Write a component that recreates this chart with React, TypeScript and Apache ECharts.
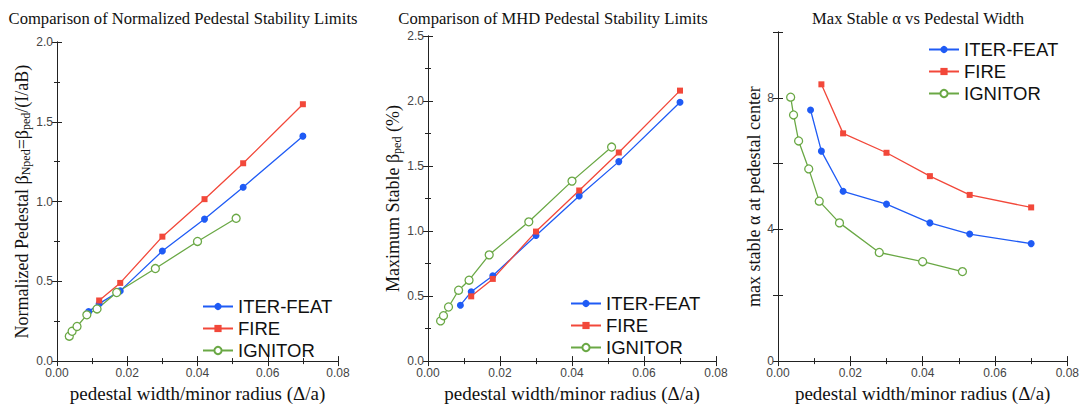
import React, { useEffect, useRef } from "react";
import * as echarts from "echarts";

// x positions (pedestal width / minor radius)
const iterX = [0.009, 0.012, 0.018, 0.030, 0.042, 0.053, 0.070];
const fireX = [0.012, 0.018, 0.030, 0.042, 0.053, 0.070];
const ignX = [0.0035, 0.0043, 0.0057, 0.0085, 0.0114, 0.017, 0.028, 0.040, 0.051];

// Panel 1: normalized pedestal beta
const iterBN = [0.31, 0.36, 0.44, 0.69, 0.89, 1.09, 1.41];
const fireBN = [0.38, 0.49, 0.78, 1.015, 1.24, 1.61];
const ignBN = [0.156, 0.187, 0.217, 0.29, 0.327, 0.43, 0.58, 0.75, 0.895];

// Panel 2: maximum stable beta_ped (%)
const iterB = [0.43, 0.533, 0.657, 0.966, 1.27, 1.534, 1.99];
const fireB = [0.498, 0.632, 0.996, 1.312, 1.604, 2.08];
const ignB = [0.309, 0.349, 0.416, 0.545, 0.622, 0.817, 1.071, 1.384, 1.646];

// Panel 3: max stable alpha at pedestal center
const iterA = [7.63, 6.38, 5.16, 4.77, 4.2, 3.86, 3.57];
const fireA = [8.41, 6.92, 6.33, 5.62, 5.05, 4.67];
const ignA = [8.02, 7.48, 6.69, 5.84, 4.86, 4.2, 3.3, 3.02, 2.72];

const seriesNames = ["ITER-FEAT", "FIRE", "IGNITOR"];
const titles = [
  "Comparison of Normalized Pedestal Stability Limits",
  "Comparison of MHD Pedestal Stability Limits",
  "Max Stable \u03b1 vs Pedestal Width",
];
const xName = "pedestal width/minor radius (\u0394/a)";

const BLUE = "#1f5bf5";
const RED = "#f2483a";
const GREEN = "#6aa845";
const AXIS = "#222";
const LABEL = "#444";
const SERIF = "'Liberation Serif', 'DejaVu Serif', serif";
const SANS = "'Liberation Sans', Arial, sans-serif";

const zip = (xs: number[], ys: number[]) => xs.map((x, i) => [x, ys[i]]);

export default function App() {
  const ref = useRef<HTMLDivElement>(null);
  useEffect(() => {
    if (!ref.current) return;
    const chart = echarts.init(ref.current, undefined, { renderer: "svg" });

    const grids = [
      { left: 57, top: 42, width: 281, height: 329 },
      { left: 428, top: 36, width: 288, height: 335 },
      { left: 778, top: 32, width: 290, height: 338 },
    ];
    const yCfg = [
      { max: 2.0, interval: 0.5, minor: true, fmt: (v: number) => v.toFixed(1), gap: 24 },
      { max: 2.5, interval: 0.5, minor: true, fmt: (v: number) => v.toFixed(1), gap: 23 },
      { max: 10, interval: 2, minor: false, fmt: (v: number) => (v % 4 === 0 ? String(v) : ""), gap: 15 },
    ];
    const yNames = [
      "Normalized Pedestal \u03b2{sub|Nped}=\u03b2{sub|ped}/(I/aB)",
      "Maximum Stable \u03b2{sub|ped} (%)",
      "max stable \u03b1 at pedestal center",
    ];
    const legendPos = [
      { left: 202, top: 296 },
      { left: 570, top: 293 },
      { left: 928, top: 39 },
    ];

    const tickLine = { color: AXIS, width: 1 };
    const xAxes: any[] = [];
    const yAxes: any[] = [];
    grids.forEach((_, g) => {
      const baseX = {
        type: "value",
        gridIndex: g,
        min: 0,
        max: 0.08,
        interval: 0.02,
        axisLine: { show: true, lineStyle: { color: AXIS, width: 1 } },
        axisTick: { show: true, inside: true, length: 5, lineStyle: tickLine },
        minorTick: { show: true, splitNumber: 2, length: 3, lineStyle: tickLine },
        splitLine: { show: false },
        minorSplitLine: { show: false },
      };
      xAxes.push({
        ...baseX,
        position: "bottom",
        name: xName,
        nameLocation: "middle",
        nameGap: 21,
        nameTextStyle: { fontFamily: SERIF, fontSize: 19, color: "#111" },
        axisLabel: {
          show: true,
          margin: 6,
          fontFamily: SANS,
          fontSize: 12,
          lineHeight: 12,
          color: LABEL,
          formatter: (v: number) => v.toFixed(2),
        },
      });
      xAxes.push({ ...baseX, position: "top", axisLabel: { show: false } });

      const c = yCfg[g];
      const baseY = {
        type: "value",
        gridIndex: g,
        min: 0,
        max: c.max,
        interval: c.interval,
        axisLine: { show: true, lineStyle: { color: AXIS, width: 1 } },
        axisTick: { show: true, inside: true, length: 5, lineStyle: tickLine },
        minorTick: { show: c.minor, splitNumber: 2, length: 3, lineStyle: tickLine },
        splitLine: { show: false },
        minorSplitLine: { show: false },
      };
      yAxes.push({
        ...baseY,
        position: "left",
        name: yNames[g],
        nameLocation: "middle",
        nameGap: c.gap,
        nameRotate: 90,
        nameTextStyle: {
          fontFamily: SERIF,
          fontSize: 18,
          color: "#111",
          rich: {
            sub: { fontFamily: SERIF, fontSize: 12, color: "#111", padding: [8, 0, 0, 0] },
          },
        },
        axisLabel: {
          show: true,
          margin: 4,
          fontFamily: SANS,
          fontSize: 12,
          lineHeight: 10,
          color: LABEL,
          formatter: c.fmt,
        },
      });
      yAxes.push({ ...baseY, position: "right", axisLabel: { show: false } });
    });

    const panels = [
      [iterBN, fireBN, ignBN],
      [iterB, fireB, ignB],
      [iterA, fireA, ignA],
    ];
    const series: any[] = [];
    panels.forEach((p, g) => {
      const xi = g * 2;
      const yi = g * 2;
      series.push({
        name: seriesNames[0],
        type: "line",
        xAxisIndex: xi,
        yAxisIndex: yi,
        data: zip(iterX, p[0]),
        symbol: "circle",
        symbolSize: 7,
        lineStyle: { color: BLUE, width: 1.3 },
        itemStyle: { color: BLUE },
      });
      series.push({
        name: seriesNames[1],
        type: "line",
        xAxisIndex: xi,
        yAxisIndex: yi,
        data: zip(fireX, p[1]),
        symbol: "rect",
        symbolSize: 6,
        lineStyle: { color: RED, width: 1.3 },
        itemStyle: { color: RED },
      });
      series.push({
        name: seriesNames[2],
        type: "line",
        xAxisIndex: xi,
        yAxisIndex: yi,
        data: zip(ignX, p[2]),
        symbol: "circle",
        symbolSize: 8,
        lineStyle: { color: GREEN, width: 1.3 },
        itemStyle: { color: "#fff", borderColor: GREEN, borderWidth: 1.3 },
      });
    });

    const legends = legendPos.map((pos) => ({
      ...pos,
      orient: "vertical",
      padding: 0,
      itemWidth: 30,
      itemHeight: 9,
      itemGap: 1,
      textStyle: { fontFamily: SANS, fontSize: 18.5, lineHeight: 21, color: "#111" },
      data: seriesNames,
    }));

    const titleX = [183, 553, 918];
    const graphic = titles.map((t, i) => ({
      type: "text",
      x: titleX[i],
      y: 18,
      style: {
        text: t,
        fontFamily: SERIF,
        fontSize: 16.6,
        fill: "#111",
        textAlign: "center",
        textVerticalAlign: "middle",
      },
    }));

    chart.setOption({
      animation: false,
      backgroundColor: "#fff",
      grid: grids,
      xAxis: xAxes,
      yAxis: yAxes,
      series,
      legend: legends,
      graphic,
    });
    return () => chart.dispose();
  }, []);
  return (
    <div
      ref={ref}
      style={{ position: "fixed", left: 0, top: 0, width: 1082, height: 408 }}
    />
  );
}
